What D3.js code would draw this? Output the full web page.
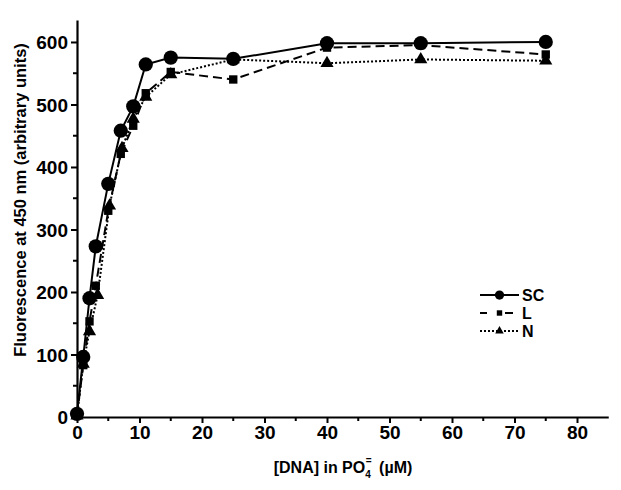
<!DOCTYPE html>
<html><head><meta charset="utf-8">
<script src="https://cdn.jsdelivr.net/npm/d3@7"></script>
<style>body{margin:0;background:#fff}svg{display:block}text{font-family:"Liberation Sans",Arial,sans-serif;font-weight:bold;fill:#000}</style>
</head><body><svg id="c" width="621" height="490"></svg>
<script>
const xSC = [0, 1, 2, 3, 5, 7, 9, 11, 15, 25, 40, 55, 75];
const ySC = [5, 96, 190, 273, 373, 458, 497, 564, 575, 573, 598, 598, 600];
const xL = [0, 1, 2, 3, 5, 7, 9, 11, 15, 25, 40, 55, 75];
const yL = [3, 83, 153, 210, 330, 421, 466, 518, 552, 540, 591, 595, 580];
const xN = [0, 1, 2, 3.3, 5.2, 7.2, 9, 11, 15, 25, 40, 55, 75];
const yN = [2, 85, 137, 195, 338, 430, 477, 512, 548, 572, 566, 572, 570];
const seriesNames = ["SC", "L", "N"];
const xTicks = [0, 10, 20, 30, 40, 50, 60, 70, 80];
const yTicks = [0, 100, 200, 300, 400, 500, 600];

const svg = d3.select("#c");
const x = d3.scaleLinear().domain([0, 85]).range([77, 608.25]);
const y = d3.scaleLinear().domain([0, 635]).range([417, 20.1]);

const g = svg.append("g");
// minor ticks
const xMinor = d3.range(5, 85, 10);
const yMinor = d3.range(50, 635, 100);
g.selectAll(".xm").data(xMinor).enter().append("line")
  .attr("x1", d => x(d)).attr("x2", d => x(d)).attr("y1", 417).attr("y2", 421)
  .attr("stroke", "#000").attr("stroke-width", 2);
g.selectAll(".ym").data(yMinor).enter().append("line")
  .attr("x1", 73).attr("x2", 77).attr("y1", d => y(d)).attr("y2", d => y(d))
  .attr("stroke", "#000").attr("stroke-width", 2);

const xAxis = d3.axisBottom(x).tickValues(xTicks).tickSize(6).tickPadding(3).tickSizeOuter(0);
const yAxis = d3.axisLeft(y).tickValues(yTicks).tickSize(6).tickPadding(3).tickSizeOuter(0);
const gx = svg.append("g").attr("transform", "translate(0,417)").call(xAxis);
const gy = svg.append("g").attr("transform", "translate(77,0)").call(yAxis);
[gx, gy].forEach(a => {
  a.select(".domain").attr("stroke", "#000").attr("stroke-width", 2.2);
  a.selectAll(".tick line").attr("stroke", "#000").attr("stroke-width", 2);
  a.selectAll(".tick text").style("font-size", "19px").style("font-family", "Liberation Sans, Arial, sans-serif").style("font-weight", "bold").attr("fill", "#000");
});
gy.selectAll(".tick text").attr("dy", "0.36em");

// axis titles
svg.append("text").attr("transform", "translate(26,200) rotate(-90)").attr("text-anchor", "middle")
  .style("font-size", "16.5px").text("Fluorescence at 450 nm (arbitrary units)");
const xt = svg.append("text").attr("x", 343).attr("y", 473).attr("text-anchor", "middle").style("font-size", "16px");
xt.append("tspan").text("[DNA] in PO");
xt.append("tspan").attr("dy", 5).style("font-size", "10px").text("4");
xt.append("tspan").attr("dy", -14).attr("dx", -5).style("font-size", "10px").text("=");
xt.append("tspan").attr("dy", 9).attr("dx", 3).text(" (µM)");

const series = [
  {name: seriesNames[0], xs: xSC, ys: ySC, dash: null, sym: d3.symbolCircle, size: 160},
  {name: seriesNames[1], xs: xL, ys: yL, dash: "9,5", sym: d3.symbolSquare, size: 70},
  {name: seriesNames[2], xs: xN, ys: yN, dash: "2,2", sym: d3.symbolTriangle, size: 75}
];
const line = d3.line().x(d => x(d[0])).y(d => y(d[1]));
series.slice().reverse().forEach(s => {
  const pts = s.xs.map((v, i) => [v, s.ys[i]]);
  svg.append("path").attr("d", line(pts)).attr("fill", "none").attr("stroke", "#000")
    .attr("stroke-width", 2).attr("stroke-dasharray", s.dash);
  svg.selectAll(null).data(pts).enter().append("path")
    .attr("d", d3.symbol().type(s.sym).size(s.size))
    .attr("transform", d => `translate(${x(d[0])},${y(d[1])})`).attr("fill", "#000");
});

// legend
const legDash = [null, "7,18,8,20", "2,2"];
series.forEach((s, i) => {
  const ly = 295 + i * 18;
  svg.append("line").attr("x1", 480).attr("x2", 519).attr("y1", ly).attr("y2", ly)
    .attr("stroke", "#000").attr("stroke-width", 2).attr("stroke-dasharray", legDash[i]);
  svg.append("path").attr("d", d3.symbol().type(s.sym).size(s.size * 0.42)).attr("transform", `translate(499.5,${ly})`);
  svg.append("text").attr("x", 522).attr("y", ly + 6).style("font-size", "16px").text(s.name);
});
</script></body></html>
